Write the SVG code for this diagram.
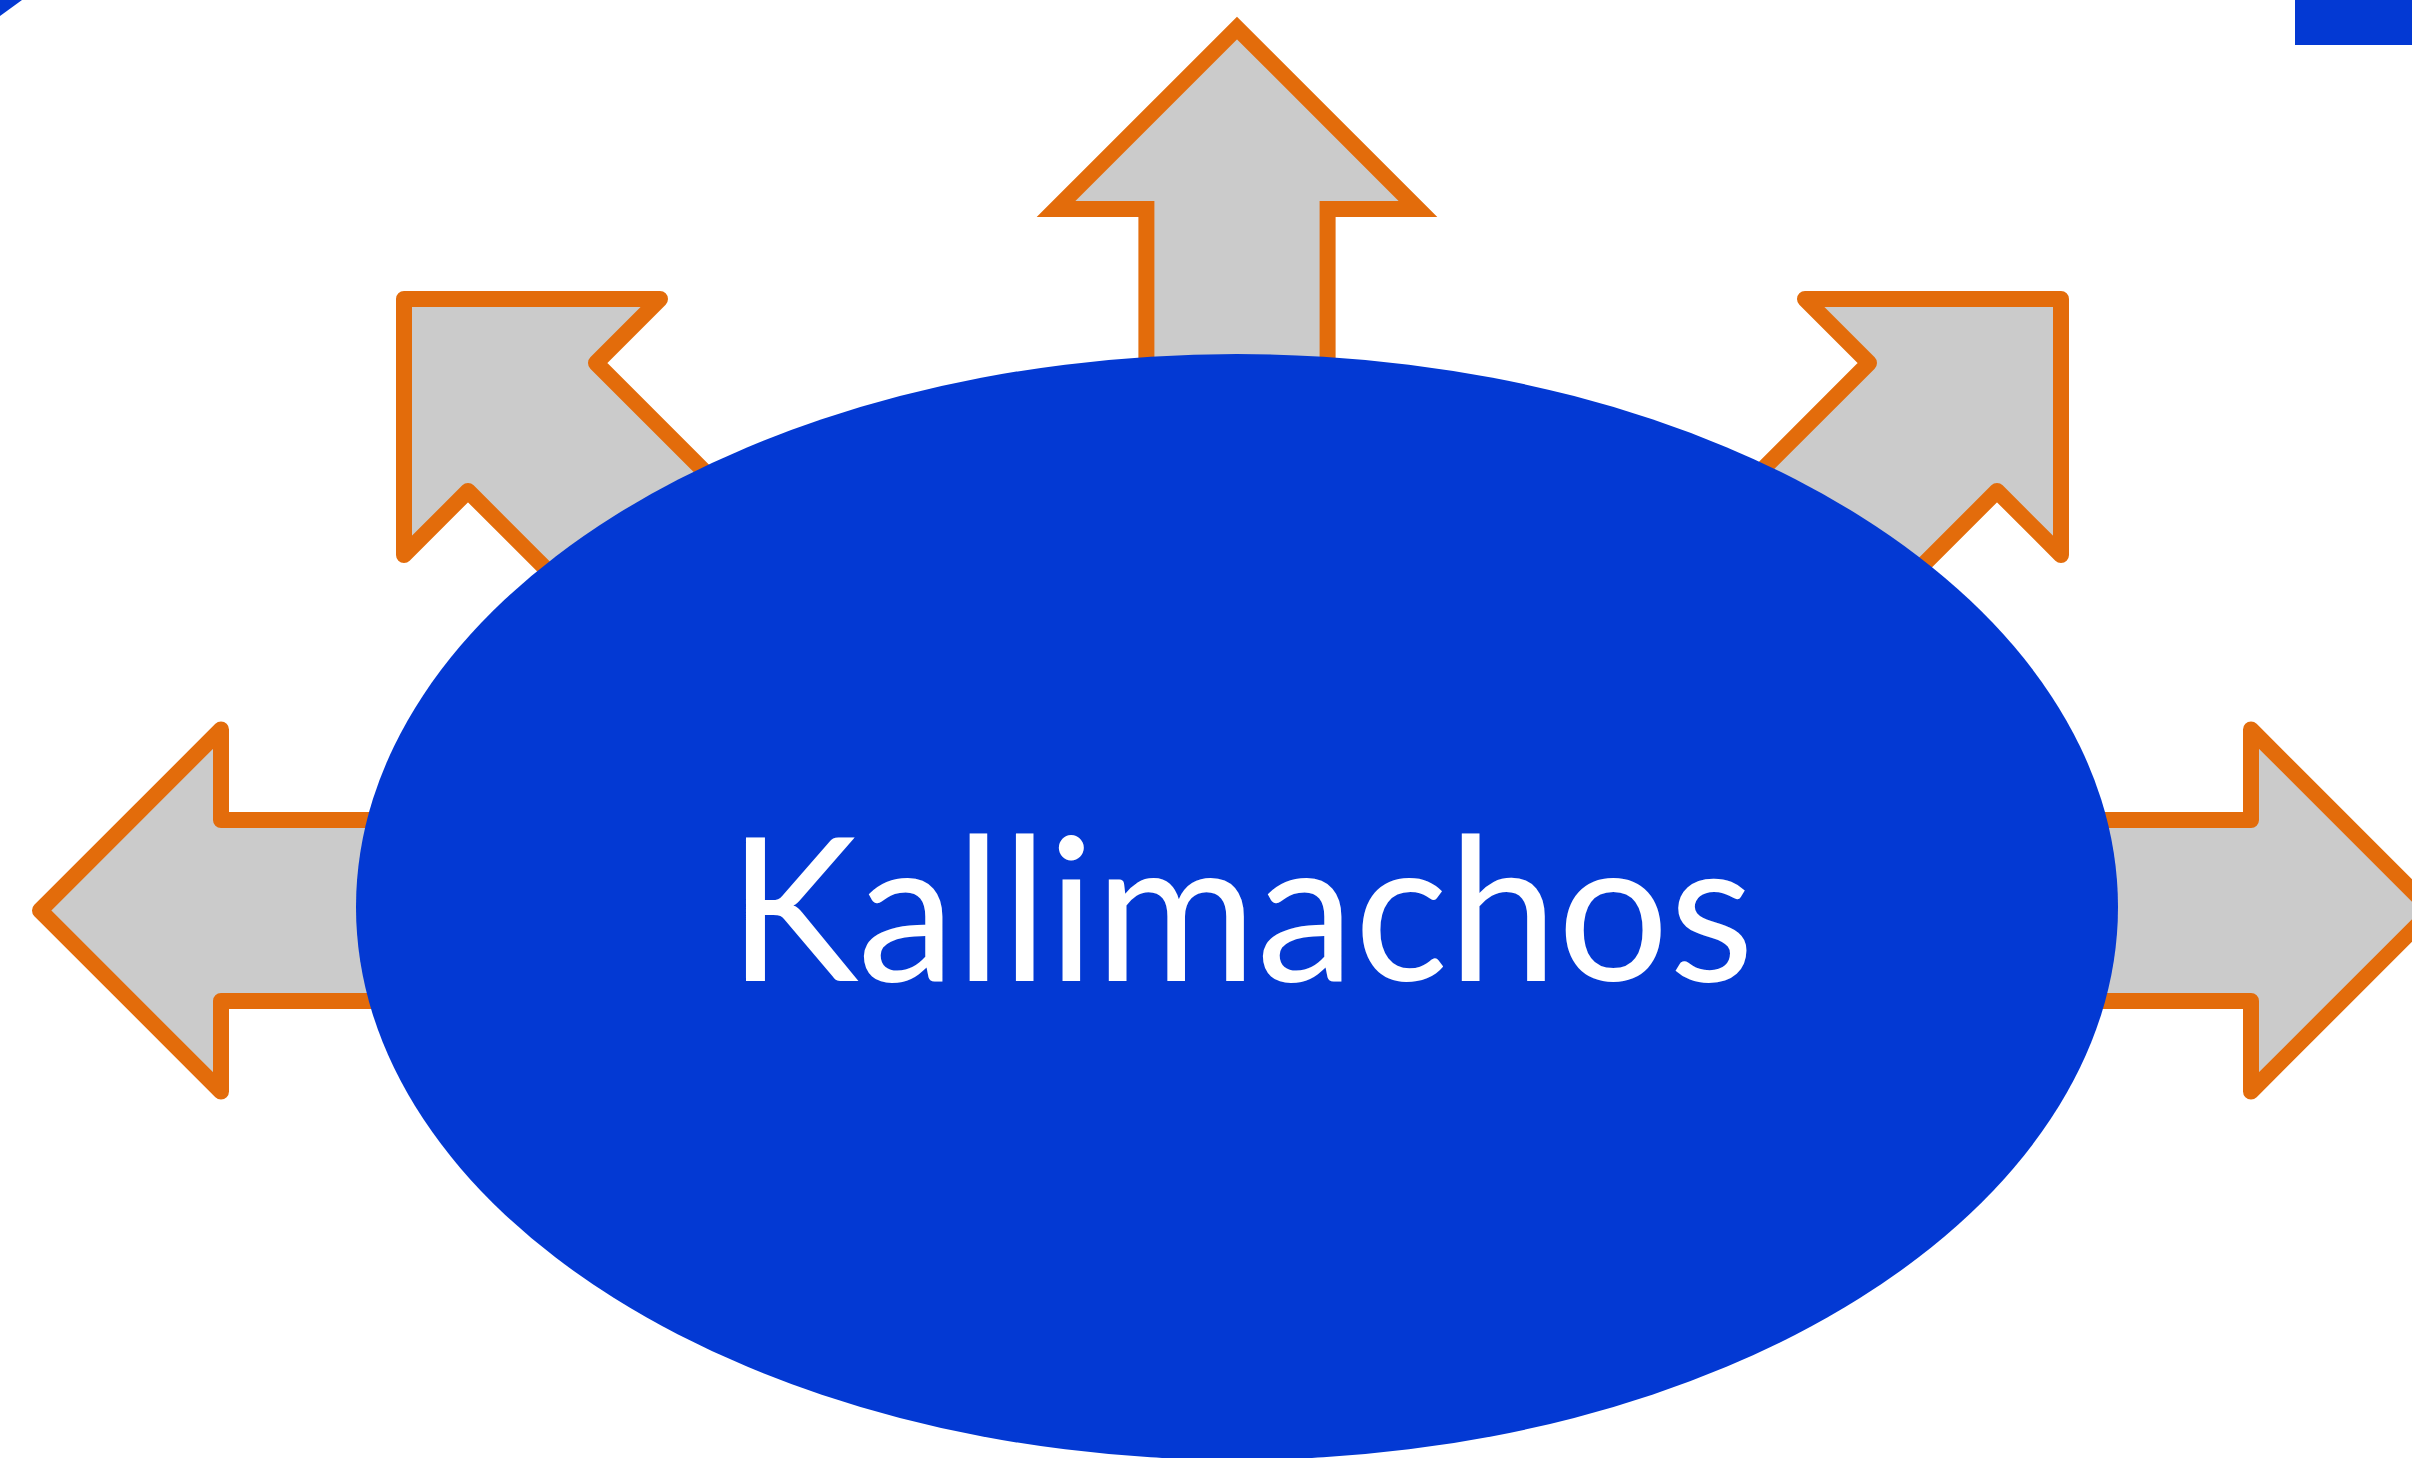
<svg xmlns="http://www.w3.org/2000/svg" width="2412" height="1458" viewBox="0 0 2412 1458">
<style>
.arrow{fill:#cbcbcb;stroke:#e36c0b;stroke-width:16;stroke-linejoin:round}
.miter{stroke-linejoin:miter;stroke-miterlimit:10}
.blue{fill:#0339d3}
.label{font-family:"Lato","Open Sans","Liberation Sans",sans-serif;font-size:200px;fill:#ffffff;text-anchor:middle}
</style>
<rect width="2412" height="1458" fill="#ffffff"/>
<polygon class="blue" points="0,0 22,0 0,16"/>
<rect class="blue" x="2295" y="0" width="117" height="45"/>
<g id="connectors">
<path id="arrow-up" class="arrow miter" d="M1146.4,520 L1146.4,209 L1056,209 L1237,28 L1418,209 L1327.6,209 L1327.6,520 Z"/>
<path id="arrow-up-left" class="arrow" d="M808,575 L596,363 L660,299 L404,299 L404,555 L468,491 L680,703 Z"/>
<path id="arrow-up-right" class="arrow" d="M1657,575 L1869,363 L1805,299 L2061,299 L2061,555 L1997,491 L1785,703 Z"/>
<path id="arrow-left" class="arrow" d="M600,820 L221,820 L221,729.5 L40,910.5 L221,1091.5 L221,1001 L600,1001 Z"/>
<path id="arrow-right" class="arrow" d="M1880,820 L2251,820 L2251,729.5 L2432,910.5 L2251,1091.5 L2251,1001 L1880,1001 Z"/>
</g>
<g id="node-kallimachos">
<ellipse class="blue" cx="1237" cy="907" rx="881" ry="553"/>
<text class="label" x="1241" y="981" textLength="1026" lengthAdjust="spacingAndGlyphs">Kallimachos</text>
</g>
</svg>
